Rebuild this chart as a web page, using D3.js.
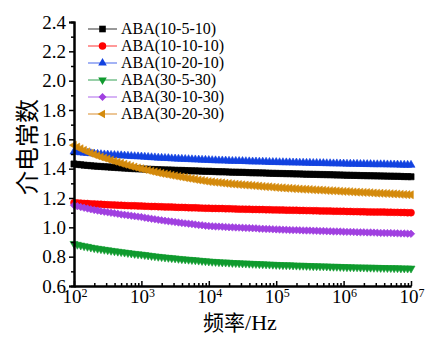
<!DOCTYPE html>
<html>
<head>
<meta charset="utf-8">
<script src="https://cdn.jsdelivr.net/npm/d3@7"></script>
<style>
  html, body { margin: 0; padding: 0; background: #fff; }
  svg { display: block; }
</style>
</head>
<body>
<svg id="chart" width="426" height="337"></svg>
<script>
const SERIF = "'Liberation Serif', 'Times New Roman', 'DejaVu Serif', serif";
const CJK = "'Noto Sans CJK SC', 'Noto Sans CJK JP', sans-serif";

// Measured frequencies, as log10(Hz)
const freqExp = [
  2.00, 2.05, 2.10, 2.15, 2.20, 2.25, 2.30, 2.35, 2.40, 2.45,
  2.50, 2.55, 2.60, 2.65, 2.70, 2.75, 2.80, 2.85, 2.90, 2.95,
  3.00, 3.05, 3.10, 3.15, 3.20, 3.25, 3.30, 3.35, 3.40, 3.45,
  3.50, 3.55, 3.60, 3.65, 3.70, 3.75, 3.80, 3.85, 3.90, 3.95,
  4.00, 4.05, 4.10, 4.15, 4.20, 4.25, 4.30, 4.35, 4.40, 4.45,
  4.50, 4.55, 4.60, 4.65, 4.70, 4.75, 4.80, 4.85, 4.90, 4.95,
  5.00, 5.05, 5.10, 5.15, 5.20, 5.25, 5.30, 5.35, 5.40, 5.45,
  5.50, 5.55, 5.60, 5.65, 5.70, 5.75, 5.80, 5.85, 5.90, 5.95,
  6.00, 6.05, 6.10, 6.15, 6.20, 6.25, 6.30, 6.35, 6.40, 6.45,
  6.50, 6.55, 6.60, 6.65, 6.70, 6.75, 6.80, 6.85, 6.90, 6.95,
  7.00
];

const seriesNames = [
  "ABA(10-5-10)", "ABA(10-10-10)", "ABA(10-20-10)",
  "ABA(30-5-30)", "ABA(30-10-30)", "ABA(30-20-30)"
];

// Dielectric constant for each sample (one row per decade)
const aba10_5_10 = [
  1.432, 1.429, 1.427, 1.424, 1.422, 1.420, 1.418, 1.416, 1.415, 1.413, 1.412, 1.410, 1.409, 1.407, 1.406, 1.404, 1.403, 1.401, 1.400, 1.399,
  1.398, 1.397, 1.396, 1.395, 1.394, 1.393, 1.392, 1.391, 1.391, 1.390, 1.389, 1.388, 1.388, 1.387, 1.386, 1.385, 1.385, 1.384, 1.383, 1.382,
  1.382, 1.381, 1.380, 1.379, 1.379, 1.378, 1.377, 1.376, 1.376, 1.375, 1.375, 1.374, 1.373, 1.372, 1.372, 1.371, 1.371, 1.370, 1.369, 1.368,
  1.368, 1.367, 1.367, 1.366, 1.366, 1.365, 1.364, 1.364, 1.363, 1.362, 1.362, 1.361, 1.361, 1.360, 1.360, 1.359, 1.359, 1.358, 1.357, 1.357,
  1.356, 1.355, 1.355, 1.354, 1.354, 1.353, 1.353, 1.352, 1.352, 1.351, 1.351, 1.350, 1.350, 1.349, 1.349, 1.348, 1.348, 1.347, 1.346, 1.346,
  1.345
];
const aba10_10_10 = [
  1.168, 1.166, 1.165, 1.163, 1.162, 1.160, 1.159, 1.158, 1.157, 1.155, 1.154, 1.153, 1.152, 1.151, 1.150, 1.149, 1.148, 1.147, 1.147, 1.146,
  1.145, 1.144, 1.143, 1.142, 1.142, 1.141, 1.140, 1.139, 1.139, 1.138, 1.137, 1.136, 1.136, 1.135, 1.134, 1.133, 1.133, 1.132, 1.131, 1.130,
  1.130, 1.129, 1.129, 1.128, 1.128, 1.127, 1.127, 1.126, 1.125, 1.124, 1.124, 1.123, 1.123, 1.122, 1.122, 1.121, 1.121, 1.120, 1.120, 1.119,
  1.119, 1.118, 1.118, 1.117, 1.117, 1.116, 1.116, 1.115, 1.115, 1.114, 1.114, 1.113, 1.113, 1.112, 1.112, 1.111, 1.111, 1.110, 1.110, 1.109,
  1.109, 1.108, 1.108, 1.107, 1.107, 1.106, 1.106, 1.105, 1.105, 1.104, 1.104, 1.104, 1.104, 1.103, 1.103, 1.102, 1.102, 1.101, 1.101, 1.100,
  1.100
];
const aba10_20_10 = [
  1.515, 1.512, 1.510, 1.508, 1.506, 1.504, 1.502, 1.500, 1.498, 1.496, 1.495, 1.493, 1.492, 1.491, 1.490, 1.488, 1.487, 1.485, 1.484, 1.483,
  1.482, 1.480, 1.479, 1.477, 1.476, 1.474, 1.473, 1.472, 1.471, 1.469, 1.468, 1.467, 1.466, 1.465, 1.464, 1.463, 1.462, 1.461, 1.460, 1.459,
  1.458, 1.457, 1.456, 1.455, 1.455, 1.454, 1.453, 1.452, 1.452, 1.451, 1.451, 1.450, 1.449, 1.448, 1.448, 1.447, 1.447, 1.446, 1.445, 1.444,
  1.444, 1.443, 1.443, 1.442, 1.442, 1.441, 1.441, 1.440, 1.440, 1.439, 1.439, 1.438, 1.438, 1.437, 1.437, 1.436, 1.436, 1.435, 1.435, 1.434,
  1.434, 1.433, 1.433, 1.432, 1.432, 1.431, 1.431, 1.430, 1.430, 1.429, 1.429, 1.429, 1.429, 1.428, 1.428, 1.427, 1.427, 1.426, 1.426, 1.425,
  1.425
];
const aba30_5_30 = [
  0.888, 0.882, 0.877, 0.872, 0.868, 0.863, 0.859, 0.855, 0.852, 0.848, 0.845, 0.841, 0.838, 0.835, 0.832, 0.829, 0.826, 0.823, 0.820, 0.817,
  0.815, 0.812, 0.809, 0.806, 0.803, 0.800, 0.798, 0.795, 0.793, 0.791, 0.789, 0.786, 0.784, 0.782, 0.780, 0.778, 0.776, 0.774, 0.772, 0.770,
  0.768, 0.766, 0.765, 0.763, 0.762, 0.761, 0.760, 0.758, 0.757, 0.756, 0.755, 0.754, 0.753, 0.752, 0.751, 0.750, 0.749, 0.748, 0.747, 0.746,
  0.745, 0.744, 0.743, 0.742, 0.742, 0.741, 0.740, 0.739, 0.739, 0.738, 0.737, 0.736, 0.736, 0.735, 0.735, 0.734, 0.733, 0.732, 0.732, 0.731,
  0.730, 0.729, 0.729, 0.728, 0.728, 0.727, 0.727, 0.726, 0.726, 0.725, 0.725, 0.724, 0.724, 0.723, 0.723, 0.722, 0.722, 0.721, 0.721, 0.720,
  0.720
];
const aba30_10_30 = [
  1.150, 1.144, 1.138, 1.133, 1.128, 1.123, 1.118, 1.114, 1.110, 1.106, 1.103, 1.099, 1.096, 1.092, 1.088, 1.085, 1.082, 1.079, 1.076, 1.073,
  1.070, 1.066, 1.062, 1.058, 1.055, 1.051, 1.048, 1.045, 1.042, 1.039, 1.036, 1.033, 1.030, 1.027, 1.025, 1.022, 1.019, 1.016, 1.014, 1.011,
  1.009, 1.007, 1.006, 1.005, 1.004, 1.002, 1.001, 1.000, 0.999, 0.998, 0.997, 0.996, 0.995, 0.994, 0.993, 0.991, 0.990, 0.989, 0.988, 0.987,
  0.986, 0.985, 0.984, 0.983, 0.982, 0.981, 0.981, 0.980, 0.979, 0.978, 0.978, 0.977, 0.976, 0.975, 0.975, 0.974, 0.973, 0.972, 0.972, 0.971,
  0.970, 0.969, 0.969, 0.968, 0.967, 0.966, 0.966, 0.965, 0.965, 0.964, 0.963, 0.962, 0.962, 0.961, 0.961, 0.960, 0.959, 0.958, 0.958, 0.957,
  0.956
];
const aba30_20_30 = [
  1.560, 1.547, 1.536, 1.525, 1.515, 1.505, 1.496, 1.488, 1.480, 1.473, 1.466, 1.458, 1.451, 1.444, 1.437, 1.430, 1.424, 1.417, 1.411, 1.405,
  1.400, 1.394, 1.389, 1.383, 1.378, 1.373, 1.368, 1.364, 1.360, 1.355, 1.351, 1.347, 1.343, 1.339, 1.335, 1.331, 1.327, 1.323, 1.320, 1.316,
  1.312, 1.310, 1.307, 1.305, 1.303, 1.300, 1.298, 1.296, 1.294, 1.292, 1.290, 1.288, 1.287, 1.285, 1.283, 1.281, 1.279, 1.277, 1.276, 1.274,
  1.272, 1.270, 1.269, 1.267, 1.266, 1.264, 1.263, 1.261, 1.260, 1.259, 1.258, 1.256, 1.255, 1.254, 1.253, 1.251, 1.250, 1.249, 1.248, 1.246,
  1.245, 1.244, 1.243, 1.241, 1.240, 1.239, 1.238, 1.237, 1.236, 1.234, 1.233, 1.232, 1.231, 1.230, 1.229, 1.228, 1.227, 1.225, 1.224, 1.223,
  1.222
];

const yTicks = [0.6, 0.8, 1.0, 1.2, 1.4, 1.6, 1.8, 2.0, 2.2, 2.4];
const yMinorTicks = [0.7, 0.9, 1.1, 1.3, 1.5, 1.7, 1.9, 2.1, 2.3];
const xTickExps = [2, 3, 4, 5, 6, 7];

const seriesValues = [aba10_5_10, aba10_10_10, aba10_20_10, aba30_5_30, aba30_10_30, aba30_20_30];
const colors = ["#000000", "#ff0000", "#1242e0", "#0f9a2e", "#a040e0", "#d48a0c"];
const legendColors = ["#555555", "#ff5555", "#6680ee", "#55b070", "#bb80ee", "#e0a050"];

// Marker shapes: square, circle, up/down triangles, diamond, left triangle
const shapes = [
  { type: d3.symbolSquare, size: 38, rot: 0 },
  { type: d3.symbolCircle, size: 38, rot: 0 },
  { type: d3.symbolTriangle, size: 28, rot: 0 },
  { type: d3.symbolTriangle, size: 28, rot: 180 },
  { type: d3.symbolSquare, size: 28, rot: 45 },
  { type: d3.symbolTriangle, size: 28, rot: -90 }
];

const svg = d3.select("#chart");
const margin = { left: 74, right: 15, top: 22, bottom: 51 };
const W = 426, H = 337;

const x = d3.scaleLog().domain([1e2, 1e7]).range([margin.left, W - margin.right]);
const y = d3.scaleLinear().domain([0.6, 2.4]).range([H - margin.bottom, margin.top]);

// Series: connecting line plus dense markers
const line = d3.line().x(d => x(d[0])).y(d => y(d[1]));
seriesValues.forEach((vals, i) => {
  const pts = freqExp.map((e, j) => [Math.pow(10, e), vals[j]]);
  const g = svg.append("g");
  g.append("path").datum(pts)
    .attr("d", line).attr("fill", "none")
    .attr("stroke", colors[i]).attr("stroke-width", 2.5);
  const sym = d3.symbol().type(shapes[i].type).size(shapes[i].size);
  g.selectAll("path.m").data(pts).join("path")
    .attr("class", "m")
    .attr("d", sym)
    .attr("transform", d => `translate(${x(d[0])},${y(d[1])}) rotate(${shapes[i].rot})`)
    .attr("fill", colors[i]).attr("stroke", colors[i]).attr("stroke-width", 0.6);
});

// Left axis: ticks point outward, one minor tick between labels
const yAxis = d3.axisLeft(y).tickValues(yTicks).tickFormat(d3.format(".1f")).tickSize(5).tickPadding(3);
const yMinor = d3.axisLeft(y).tickValues(yMinorTicks).tickFormat("").tickSize(3);
const gy = svg.append("g").attr("transform", `translate(${margin.left},0)`);
gy.call(yMinor);
gy.append("g").call(yAxis);
gy.selectAll("path.domain").attr("stroke-width", 2).attr("stroke", "#000");
gy.selectAll("line").attr("stroke-width", 1.5);
gy.selectAll("text").attr("font-size", 19).attr("fill", "#000")
  .style("font-family", SERIF);

// Bottom axis: ticks point inward
const minorX = [];
xTickExps.slice(0, -1).forEach(e => { for (let k = 2; k <= 9; k++) minorX.push(k * Math.pow(10, e)); });
const xAxis = d3.axisBottom(x).tickValues(xTickExps.map(e => Math.pow(10, e))).tickFormat("").tickSizeInner(-5).tickSizeOuter(0);
const xMinor = d3.axisBottom(x).tickValues(minorX).tickFormat("").tickSizeInner(-3).tickSizeOuter(0);
const gx = svg.append("g").attr("transform", `translate(0,${H - margin.bottom})`);
gx.call(xMinor);
gx.append("g").call(xAxis);
gx.selectAll("path.domain").attr("stroke-width", 2).attr("stroke", "#000");
gx.selectAll("line").attr("stroke-width", 1.5);

// Power-of-ten labels
xTickExps.forEach(e => {
  const t = svg.append("text")
    .attr("x", x(Math.pow(10, e)) + 1)
    .attr("y", H - margin.bottom + 17)
    .attr("text-anchor", "middle")
    .attr("font-size", 19).attr("fill", "#000")
    .style("font-family", SERIF);
  t.append("tspan").text("10");
  t.append("tspan").text(e).attr("font-size", 12).attr("dy", -6);
});

// Axis titles
svg.append("text")
  .attr("transform", "translate(36,147) rotate(-90)")
  .attr("text-anchor", "middle")
  .attr("font-size", 24).attr("fill", "#000")
  .style("font-family", CJK)
  .text("介电常数");

const xt = svg.append("text")
  .attr("x", 240).attr("y", 330)
  .attr("text-anchor", "middle")
  .attr("font-size", 22).attr("fill", "#000")
  .style("font-family", SERIF);
xt.append("tspan").style("font-family", CJK).attr("font-size", 21).text("频率");
xt.append("tspan").text("/Hz");

// Legend
const legend = svg.append("g");
seriesNames.forEach((name, i) => {
  const ly = 29 + i * 17;
  legend.append("line")
    .attr("x1", 88).attr("x2", 117).attr("y1", ly).attr("y2", ly)
    .attr("stroke", legendColors[i]).attr("stroke-width", 1.2);
  legend.append("path")
    .attr("d", d3.symbol().type(shapes[i].type).size(shapes[i].size * 1.15)())
    .attr("transform", `translate(102.5,${ly}) rotate(${shapes[i].rot})`)
    .attr("fill", colors[i]);
  legend.append("text")
    .attr("x", 121).attr("y", ly).attr("dy", "0.34em")
    .attr("font-size", 16).attr("fill", "#000")
    .style("font-family", SERIF)
    .text(name);
});
</script>
</body>
</html>
